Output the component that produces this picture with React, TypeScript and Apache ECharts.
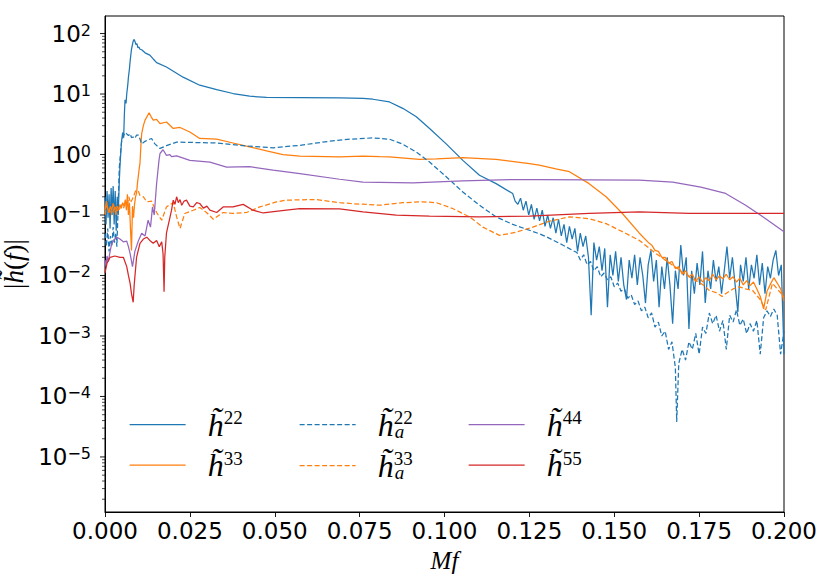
import React, { useEffect, useRef } from "react";
import * as echarts from "echarts";

// ---------- data ----------
const X_MIN = 0;
const X_MAX = 0.2;
const X_INTERVAL = 0.025;
const Y_MIN = 1.23e-6;
const Y_MAX = 195;

const H22_HEAD: [number, number][] = [
  [0, 0.2], [0.0003, 0.07], [0.0006, 0.25], [0.0009, 0.09], [0.0012, 0.22], [0.0015, 0.06],
  [0.0018, 0.28], [0.0021, 0.1], [0.0024, 0.3], [0.0027, 0.07], [0.003, 0.25], [0.0033, 0.055],
  [0.0036, 0.2], [0.0039, 0.1], [0.0042, 0.35], [0.0044, 0.62], [0.0047, 1.2], [0.0049, 1.7],
  [0.0052, 2.3], [0.0055, 1.9], [0.0057, 4.5], [0.0059, 8], [0.0062, 7], [0.0064, 10],
  [0.0067, 14], [0.0069, 19], [0.0072, 26], [0.0074, 35], [0.0078, 55], [0.0083, 75],
  [0.0086, 80], [0.0089, 72], [0.0091, 66], [0.0094, 68], [0.0097, 58], [0.01, 60],
  [0.0103, 55], [0.0108, 54], [0.0118, 48], [0.0132, 44], [0.0142, 38], [0.0152, 33],
  [0.0181, 28], [0.023, 19], [0.0279, 14], [0.0329, 11.8], [0.0377, 10.2], [0.0426, 9.2],
  [0.0476, 8.8], [0.0574, 8.7], [0.0691, 8.6], [0.076, 8.5], [0.0789, 8.2], [0.0838, 7.4],
  [0.0877, 5.8], [0.0917, 4.2], [0.0956, 2.7], [0.1005, 1.5], [0.1054, 0.8], [0.1103, 0.455],
  [0.1152, 0.33], [0.1201, 0.226],
];
const H22_TAIL_START = 0.1208;
const H22_TAIL_STEP = 0.0008;
const H22_TAIL: number[] = [
  0.17, 0.15, 0.19, 0.12, 0.17, 0.1, 0.15, 0.085, 0.13, 0.08,
  0.12, 0.065, 0.1, 0.06, 0.09, 0.05, 0.085, 0.045, 0.07, 0.035,
  0.065, 0.04, 0.06, 0.025, 0.05, 0.03, 0.045, 0.02, 0.0022, 0.035,
  0.018, 0.03, 0.012, 0.028, 0.003, 0.022, 0.01, 0.025, 0.008, 0.02,
  0.007, 0.004, 0.018, 0.009, 0.022, 0.007, 0.02, 0.01, 0.0035, 0.015,
  0.026, 0.008, 0.018, 0.003, 0.014, 0.006, 0.02, 0.007, 0.0016, 0.012,
  0.006, 0.032, 0.01, 0.02, 0.0013, 0.012, 0.005, 0.016, 0.007, 0.025,
  0.0035, 0.012, 0.006, 0.018, 0.008, 0.014, 0.005, 0.012, 0.03, 0.009,
  0.02, 0.007, 0.0025, 0.015, 0.008, 0.02, 0.006, 0.015, 0.009, 0.022,
  0.007, 0.016, 0.005, 0.014, 0.009, 0.018, 0.026, 0.01, 0.015, 0.0005,
];

const H22A_HEAD: [number, number][] = [
  [0, 0.05], [0.0004, 0.03], [0.0008, 0.06], [0.0012, 0.025], [0.0016, 0.045], [0.002, 0.03],
  [0.0024, 0.063], [0.0028, 0.035], [0.0032, 0.05], [0.0035, 0.03], [0.0039, 0.15], [0.0042, 0.6],
  [0.0046, 1.1], [0.0049, 1.7], [0.0054, 2.0], [0.0059, 2.3], [0.0064, 2.2], [0.0069, 2.05],
  [0.0074, 2.2], [0.0078, 1.9], [0.0083, 1.95], [0.0088, 1.85], [0.0093, 2.1], [0.0098, 2.1],
  [0.0103, 1.8], [0.0108, 1.5], [0.0118, 1.65], [0.0127, 1.75], [0.0137, 1.84], [0.0147, 1.5],
  [0.0162, 1.26], [0.0181, 1.4], [0.0211, 1.6], [0.026, 1.58], [0.0329, 1.55], [0.0426, 1.37],
  [0.0495, 1.29], [0.0574, 1.42], [0.0662, 1.66], [0.0721, 1.79], [0.0789, 1.88], [0.0838, 1.79],
  [0.0877, 1.48], [0.0917, 1.1], [0.0956, 0.75], [0.1005, 0.43], [0.1054, 0.24], [0.1103, 0.145],
  [0.1152, 0.093], [0.1201, 0.07], [0.125, 0.056], [0.1279, 0.049], [0.1299, 0.044], [0.1348, 0.032],
  [0.1377, 0.026],
];
const H22A_TAIL: [number, number][] = [
  [0.139, 0.024], [0.14, 0.018], [0.141, 0.022], [0.142, 0.015], [0.143, 0.017], [0.144, 0.012],
  [0.145, 0.014], [0.146, 0.0095], [0.147, 0.011], [0.148, 0.0085], [0.149, 0.0095], [0.15, 0.0065],
  [0.151, 0.0075], [0.152, 0.0055], [0.153, 0.006], [0.154, 0.0042], [0.155, 0.0048], [0.156, 0.0033],
  [0.157, 0.0038], [0.158, 0.0026], [0.159, 0.003], [0.16, 0.002], [0.161, 0.0024], [0.162, 0.0014],
  [0.163, 0.0017], [0.164, 0.001], [0.165, 0.0012], [0.166, 0.0006], [0.167, 0.0008], [0.168, 0.0003],
  [0.1684, 0.000038], [0.169, 0.00035], [0.17, 0.0006], [0.171, 0.0004], [0.172, 0.0008], [0.173, 0.0006],
  [0.174, 0.0011], [0.175, 0.0005], [0.176, 0.0014], [0.177, 0.0011], [0.178, 0.0024], [0.179, 0.0016],
  [0.18, 0.0022], [0.181, 0.0012], [0.182, 0.0018], [0.183, 0.0006], [0.184, 0.0022], [0.185, 0.0017],
  [0.186, 0.0027], [0.187, 0.0015], [0.188, 0.0019], [0.189, 0.0011], [0.19, 0.0016], [0.191, 0.0012],
  [0.192, 0.0018], [0.193, 0.0005], [0.194, 0.002], [0.195, 0.0026], [0.196, 0.0021], [0.197, 0.0028],
  [0.198, 0.0022], [0.199, 0.0005], [0.2, 0.0012],
];

const H33: [number, number][] = [
  [0, 0.12], [0.0004, 0.17], [0.0008, 0.13], [0.0012, 0.11], [0.0016, 0.14], [0.002, 0.12],
  [0.0024, 0.155], [0.0028, 0.13], [0.0032, 0.1], [0.0036, 0.14], [0.004, 0.12], [0.0044, 0.15],
  [0.0048, 0.13], [0.0052, 0.16], [0.0056, 0.14], [0.006, 0.18], [0.0063, 0.12], [0.0066, 0.22],
  [0.0069, 0.1], [0.0072, 0.16], [0.0075, 0.06], [0.0078, 0.026], [0.0081, 0.14], [0.0084, 0.09],
  [0.0087, 0.15], [0.009, 0.2], [0.0093, 0.23], [0.0096, 0.35], [0.0098, 0.43], [0.0101, 0.6],
  [0.0103, 0.71], [0.0106, 1.5], [0.0108, 2.2], [0.0113, 3.0], [0.0118, 3.7], [0.013, 4.9],
  [0.0136, 4.2], [0.0142, 3.7], [0.0152, 3.8], [0.0162, 3.25], [0.0181, 3.45], [0.0201, 2.7],
  [0.0221, 2.8], [0.025, 2.36], [0.0279, 1.84], [0.0329, 1.79], [0.0377, 1.55], [0.0426, 1.34],
  [0.0476, 1.15], [0.0524, 1.0], [0.0574, 0.94], [0.0691, 0.91], [0.076, 0.94], [0.0809, 0.92],
  [0.0838, 0.91], [0.0926, 0.83], [0.0976, 0.85], [0.1054, 0.89], [0.1152, 0.83], [0.125, 0.71],
  [0.1279, 0.67], [0.1328, 0.58], [0.1368, 0.52], [0.1426, 0.33], [0.1476, 0.2], [0.1524, 0.106],
  [0.1574, 0.05], [0.1603, 0.034],
  [0.161, 0.032], [0.162, 0.026], [0.163, 0.025], [0.164, 0.02], [0.165, 0.02], [0.166, 0.016],
  [0.167, 0.017], [0.168, 0.013], [0.169, 0.014], [0.17, 0.0105], [0.171, 0.012], [0.172, 0.0095],
  [0.173, 0.0105], [0.174, 0.008], [0.175, 0.0095], [0.176, 0.0078], [0.177, 0.0092], [0.178, 0.0082],
  [0.179, 0.0105], [0.18, 0.0085], [0.181, 0.0098], [0.182, 0.0088], [0.183, 0.0105], [0.184, 0.0085],
  [0.185, 0.0095], [0.186, 0.0078], [0.187, 0.009], [0.188, 0.007], [0.189, 0.0082], [0.19, 0.0068],
  [0.191, 0.0078], [0.192, 0.006], [0.193, 0.0045], [0.194, 0.0028], [0.195, 0.0055], [0.196, 0.0072],
  [0.197, 0.0092], [0.198, 0.0075], [0.199, 0.006], [0.2, 0.0038],
];

const H33A: [number, number][] = [
  [0, 0.1], [0.0005, 0.14], [0.001, 0.11], [0.0015, 0.13], [0.002, 0.1], [0.0025, 0.12],
  [0.003, 0.14], [0.0035, 0.11], [0.004, 0.13], [0.0045, 0.12], [0.005, 0.15], [0.0055, 0.13],
  [0.006, 0.17], [0.0065, 0.14], [0.007, 0.2], [0.0075, 0.16], [0.008, 0.18], [0.0085, 0.21],
  [0.009, 0.25], [0.0098, 0.25], [0.0103, 0.21], [0.0113, 0.2], [0.0123, 0.165], [0.0137, 0.17],
  [0.0152, 0.11], [0.0167, 0.082], [0.0181, 0.136], [0.0201, 0.16], [0.0211, 0.093], [0.0221, 0.06],
  [0.0235, 0.106], [0.026, 0.12], [0.0279, 0.133], [0.0299, 0.11], [0.0319, 0.085], [0.0348, 0.11],
  [0.0377, 0.106], [0.0417, 0.11], [0.0456, 0.136], [0.0505, 0.165], [0.0534, 0.176], [0.0623, 0.18],
  [0.0691, 0.16], [0.0721, 0.155], [0.0809, 0.145], [0.0877, 0.16], [0.0936, 0.165], [0.0976, 0.16],
  [0.1024, 0.128], [0.1074, 0.093], [0.1113, 0.063], [0.1162, 0.046], [0.1211, 0.052], [0.126, 0.063],
  [0.1309, 0.079], [0.1368, 0.093], [0.1426, 0.087], [0.1476, 0.072], [0.1524, 0.053], [0.1574, 0.038],
  [0.1623, 0.023], [0.1672, 0.0148], [0.1721, 0.0095], [0.1745, 0.008], [0.1765, 0.0068], [0.1779, 0.0057],
  [0.18, 0.0052], [0.1818, 0.0045], [0.1828, 0.005], [0.185, 0.006], [0.1868, 0.0065], [0.1887, 0.006],
  [0.1907, 0.0057], [0.193, 0.004], [0.1946, 0.0027], [0.1966, 0.0074], [0.198, 0.006], [0.2, 0.0044],
];

const H44: [number, number][] = [
  [0, 0.018], [0.0003, 0.014], [0.0006, 0.021], [0.001, 0.017], [0.0015, 0.025], [0.002, 0.034],
  [0.0029, 0.04], [0.0035, 0.043], [0.0044, 0.04], [0.0054, 0.036], [0.0064, 0.037], [0.0069, 0.03],
  [0.0074, 0.023], [0.0081, 0.014], [0.0088, 0.025], [0.0098, 0.037], [0.0108, 0.05], [0.0118, 0.045],
  [0.0127, 0.082], [0.0134, 0.063], [0.014, 0.136], [0.0145, 0.1], [0.0152, 0.33], [0.0159, 0.8],
  [0.0162, 1.04], [0.0171, 1.2], [0.0181, 0.97], [0.0191, 1.0], [0.0196, 0.92], [0.0211, 0.95],
  [0.025, 0.8], [0.0309, 0.75], [0.0358, 0.62], [0.0426, 0.63], [0.0495, 0.55], [0.0574, 0.485],
  [0.0691, 0.39], [0.076, 0.35], [0.0907, 0.34], [0.1054, 0.366], [0.1201, 0.386], [0.1279, 0.386],
  [0.1574, 0.376], [0.1672, 0.35], [0.1755, 0.29], [0.1828, 0.227], [0.1887, 0.145], [0.1946, 0.087],
  [0.2, 0.053],
];

const H55: [number, number][] = [
  [0, 0.011], [0.0006, 0.016], [0.0015, 0.02], [0.0029, 0.021], [0.0044, 0.02], [0.0054, 0.02],
  [0.0064, 0.014], [0.0069, 0.01], [0.0074, 0.0074], [0.0078, 0.005], [0.0083, 0.0036], [0.0086, 0.007],
  [0.0093, 0.02], [0.0103, 0.034], [0.0113, 0.04], [0.0123, 0.043], [0.0132, 0.038], [0.0142, 0.034],
  [0.0152, 0.038], [0.016, 0.03], [0.0167, 0.036], [0.0171, 0.023], [0.0174, 0.0054], [0.0176, 0.02],
  [0.0181, 0.05], [0.0191, 0.09], [0.0196, 0.12], [0.0201, 0.176], [0.0206, 0.15], [0.0211, 0.2],
  [0.0216, 0.16], [0.0221, 0.18], [0.0226, 0.145], [0.0233, 0.17], [0.024, 0.176], [0.025, 0.14],
  [0.026, 0.136], [0.027, 0.16], [0.0279, 0.155], [0.029, 0.13], [0.03, 0.14], [0.0309, 0.12],
  [0.0329, 0.11], [0.0348, 0.136], [0.0377, 0.136], [0.0407, 0.15], [0.0436, 0.12], [0.0466, 0.108],
  [0.0534, 0.12], [0.0574, 0.128], [0.0691, 0.126], [0.076, 0.113], [0.0858, 0.1], [0.0956, 0.096],
  [0.1103, 0.093], [0.125, 0.096], [0.1426, 0.106], [0.1574, 0.113], [0.1721, 0.106], [0.1868, 0.106],
  [0.2, 0.106],
];

const Y_MAJOR_EXPONENTS = [-6, -5, -4, -3, -2, -1, 0, 1, 2];
const Y_MINOR_MULTIPLES = [2, 3, 4, 5, 6, 7, 8, 9];

const COLORS = {
  blue: "#1f77b4",
  orange: "#ff7f0e",
  purple: "#9467bd",
  red: "#d62728",
};

const LEGEND_COLUMNS: string[][] = [
  ["h22", "h33"],
  ["h22a", "h33a"],
  ["h44", "h55"],
];
const LEGEND_LABELS: Record<string, string> = {
  h22: "{g| }{h|h\u0303}{p|22}",
  h33: "{g| }{h|h\u0303}{p|33}",
  h22a: "{g| }{h|h\u0303}{pz|22}{b|a}",
  h33a: "{g| }{h|h\u0303}{pz|33}{b|a}",
  h44: "{g| }{h|h\u0303}{p|44}",
  h55: "{g| }{h|h\u0303}{p|55}",
};

// ---------- helpers ----------
function withTail(head: [number, number][], start: number, step: number, tail: number[]) {
  return head.concat(tail.map((v, i) => [Number((start + i * step).toFixed(5)), v] as [number, number]));
}

function yTickData() {
  const out: [number, number, number][] = [];
  for (const e of Y_MAJOR_EXPONENTS) {
    const base = Math.pow(10, e);
    if (base >= Y_MIN && base <= Y_MAX) out.push([0, base, 1]);
    for (const m of Y_MINOR_MULTIPLES) {
      const v = m * base;
      if (v >= Y_MIN && v <= Y_MAX) out.push([0, v, 0]);
    }
  }
  return out;
}

const SERIF = "Liberation Serif";
const SANS = "DejaVu Sans";

export default function App() {
  const ref = useRef<HTMLDivElement>(null);

  useEffect(() => {
    if (!ref.current) return;
    const chart = echarts.init(ref.current, undefined, { renderer: "svg" });

    const lineSeries = (name: string, data: [number, number][], color: string, dashed: boolean, z: number) => ({
      name,
      type: "line",
      data,
      showSymbol: false,
      symbol: "none",
      z,
      clip: true,
      lineStyle: { color, width: 1.25, type: dashed ? [5, 2.5] : "solid" },
      itemStyle: { color },
      emphasis: { disabled: true },
    });

    const legendRich = {
      g: { width: 17 },
      h: { fontFamily: SERIF, fontStyle: "italic", fontSize: 32, lineHeight: 33, color: "#000" },
      p: { fontFamily: SERIF, fontSize: 19, lineHeight: 19, verticalAlign: "top", color: "#000" },
      pz: { fontFamily: SERIF, fontSize: 19, lineHeight: 19, verticalAlign: "top", width: 1, color: "#000" },
      b: { fontFamily: SERIF, fontStyle: "italic", fontSize: 19, lineHeight: 9, verticalAlign: "bottom", color: "#000" },
    };
    const LEGEND_LEFT = [129, 299, 468];

    const option: any = {
      animation: false,
      backgroundColor: "#fff",
      grid: {
        left: 105,
        top: 16,
        width: 679,
        height: 496,
        show: true,
        borderColor: "#000",
        borderWidth: 1,
        backgroundColor: "transparent",
        containLabel: false,
        outerBoundsMode: "none",
      },
      legend: LEGEND_COLUMNS.map((col, i) => ({
        data: col,
        orient: "vertical",
        left: LEGEND_LEFT[i],
        top: 408,
        padding: 0,
        itemWidth: 56,
        itemHeight: 14,
        itemGap: 8,
        selectedMode: false,
        itemStyle: { opacity: 0, borderWidth: 0 },
        lineStyle: { width: 1.25 },
        formatter: (name: string) => LEGEND_LABELS[name],
        textStyle: { rich: legendRich, color: "#000" },
      })),
      xAxis: {
        type: "value",
        min: X_MIN,
        max: X_MAX,
        interval: X_INTERVAL,
        name: "Mf",
        nameLocation: "middle",
        nameGap: 36,
        nameTextStyle: { fontFamily: SERIF, fontStyle: "italic", fontSize: 25, color: "#000" },
        axisLine: { show: true, onZero: false, lineStyle: { color: "#000", width: 1 } },
        axisTick: { show: true, inside: false, length: 5, lineStyle: { color: "#000", width: 0.9 } },
        axisLabel: {
          show: true,
          margin: 7,
          fontFamily: SANS,
          fontSize: 23,
          color: "#000",
          showMinLabel: true,
          showMaxLabel: true,
          formatter: (v: number) => v.toFixed(3),
        },
        splitLine: { show: false },
      },
      yAxis: {
        type: "log",
        logBase: 10,
        min: Y_MIN,
        max: Y_MAX,
        name: "|{i|h\u0303}({i|f})|",
        nameLocation: "middle",
        nameGap: 57,
        nameRotate: 90,
        nameTextStyle: {
          fontFamily: SERIF,
          fontSize: 27,
          color: "#000",
          rich: { i: { fontFamily: SERIF, fontStyle: "italic", fontSize: 27, color: "#000" } },
        },
        axisLine: { show: true, onZero: false, lineStyle: { color: "#000", width: 1 } },
        axisTick: { show: false },
        minorTick: { show: false },
        splitLine: { show: false },
        axisLabel: {
          show: true,
          margin: 14,
          fontFamily: SANS,
          fontSize: 23,
          color: "#000",
          formatter: (v: number) => {
            const e = Math.log10(v);
            const r = Math.round(e);
            if (Math.abs(e - r) > 1e-6) return "";
            const s = r < 0 ? "\u2212" + Math.abs(r) : String(r);
            return "{b|10}{s|" + s + "}";
          },
          rich: {
            b: { fontFamily: SANS, fontSize: 23, lineHeight: 23, color: "#000" },
            s: { fontFamily: SANS, fontSize: 16, lineHeight: 14, verticalAlign: "top", color: "#000" },
          },
        },
      },
      series: [
        lineSeries("h22", withTail(H22_HEAD, H22_TAIL_START, H22_TAIL_STEP, H22_TAIL), COLORS.blue, false, 2),
        lineSeries("h33", H33, COLORS.orange, false, 3),
        lineSeries("h22a", H22A_HEAD.concat(H22A_TAIL), COLORS.blue, true, 4),
        lineSeries("h33a", H33A, COLORS.orange, true, 5),
        lineSeries("h44", H44, COLORS.purple, false, 6),
        lineSeries("h55", H55, COLORS.red, false, 7),
        {
          name: "yticks",
          type: "custom",
          coordinateSystem: "cartesian2d",
          clip: false,
          silent: true,
          z: 10,
          data: yTickData(),
          encode: { x: 0, y: 1 },
          renderItem: (params: any, api: any) => {
            const p = api.coord([X_MIN, api.value(1)]);
            const len = api.value(2) === 1 ? 5 : 3;
            return {
              type: "line",
              shape: { x1: p[0], y1: p[1], x2: p[0] - len, y2: p[1] },
              style: { stroke: "#000", lineWidth: api.value(2) === 1 ? 0.9 : 0.7 },
            };
          },
        },
      ],
    };

    chart.setOption(option);
    return () => chart.dispose();
  }, []);

  return (
    <div
      ref={ref}
      style={{ position: "fixed", left: 0, top: 0, width: 830, height: 588, background: "#fff" }}
    />
  );
}
